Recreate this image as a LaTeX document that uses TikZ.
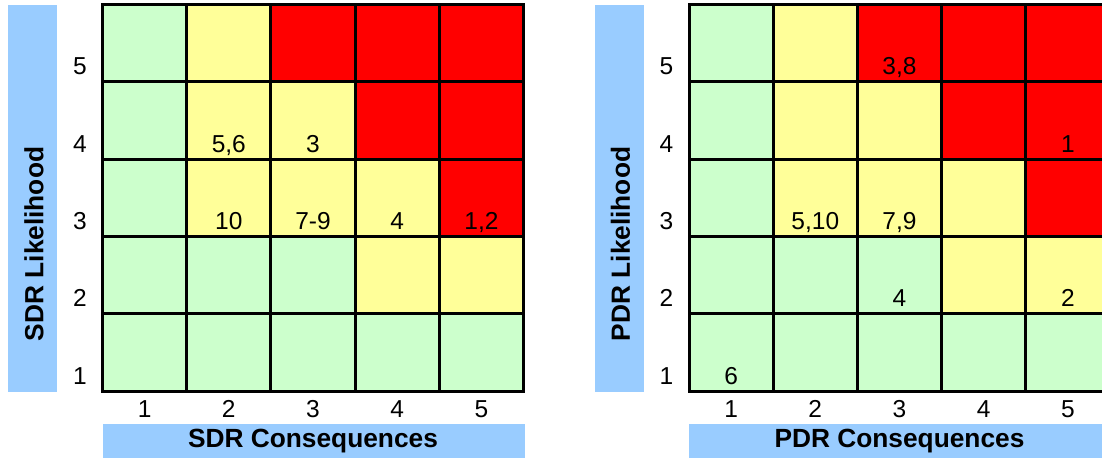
\documentclass[tikz,border=0pt]{standalone}
\usepackage{fontspec}
\setmainfont{Liberation Sans}
\definecolor{riskG}{HTML}{CCFFCC}
\definecolor{riskY}{HTML}{FFFF99}
\definecolor{riskR}{HTML}{FF0000}
\definecolor{riskB}{HTML}{99CCFF}
\def\W{84.2}
\def\Y{4.5}
\def\H{77.3}
\tikzset{
  gl/.style={line width=3pt, line cap=rect},
  tick/.style={font=\fontsize{24.5}{24.5}\selectfont, anchor=base, inner sep=0pt},
  ax/.style={font=\fontsize{26.3}{26.3}\selectfont\bfseries, inner sep=0pt, anchor=base},
  bar/.style={fill=riskB}
}
\newcommand\riskmatrix[3]{%
  % #1 prefix, #2 left x, #3 title prefix
  \foreach \r/\a/\b/\cc/\d/\e in {5/G/Y/R/R/R, 4/G/Y/Y/R/R, 3/G/Y/Y/Y/R, 2/G/G/G/Y/Y, 1/G/G/G/G/G} {
    \foreach \c/\k in {1/\a,2/\b,3/\cc,4/\d,5/\e} {
      \fill[risk\k] ({#2+(\c-1)*\W},{\Y+(5-\r)*\H}) rectangle ++(\W,\H);
    }
  }
  \foreach \i in {0,...,5} {
    \draw[gl] ({#2+\i*\W},\Y) -- ({#2+\i*\W},{\Y+5*\H});
    \draw[gl] (#2,{\Y+\i*\H}) -- ({#2+5*\W},{\Y+\i*\H});
  }
  \foreach \i in {1,...,5} {
    \node[tick] (#1y\i) at ({#2-22.5},{\Y+(6-\i)*\H-7}) {\i};
    \node[tick] (#1x\i) at ({#2+(\i-0.5)*\W},417) {\i};
  }
  \fill[bar] ({#2-94.5},\Y) rectangle ({#2-45.5},391.5);
  \fill[bar] (#2,424) rectangle ({#2+5*\W+1.5},458);
  \node[ax, rotate=90] (#1ytitle) at ({#2-59.2},244) {#3 Likelihood};
  \node[ax] (#1xtitle) at ({#2+2.5*\W},447.5) {#3 Consequences};
}
\newcommand\cellnum[5]{% prefix, left x, col, row, text
  \node[tick] (#1c#3r#4) at ({#2+(#3-0.5)*\W},{\Y+(6-#4)*\H-7}) {#5};
}
\begin{document}
\begin{tikzpicture}[x=1pt,y=-1pt]
\useasboundingbox (0,0) rectangle (1102,458);
\clip (0,0) rectangle (1102,458);
\fill[white] (0,0) rectangle (1102,458);
\riskmatrix{L}{102.5}{SDR}
\riskmatrix{R}{689}{PDR}
\cellnum{L}{102.5}{2}{4}{5,6}
\cellnum{L}{102.5}{3}{4}{3}
\cellnum{L}{102.5}{2}{3}{10}
\cellnum{L}{102.5}{3}{3}{7-9}
\cellnum{L}{102.5}{4}{3}{4}
\cellnum{L}{102.5}{5}{3}{1,2}
\cellnum{R}{689}{3}{5}{3,8}
\cellnum{R}{689}{5}{4}{1}
\cellnum{R}{689}{2}{3}{5,10}
\cellnum{R}{689}{3}{3}{7,9}
\cellnum{R}{689}{3}{2}{4}
\cellnum{R}{689}{5}{2}{2}
\cellnum{R}{689}{1}{1}{6}
\end{tikzpicture}
\end{document}
